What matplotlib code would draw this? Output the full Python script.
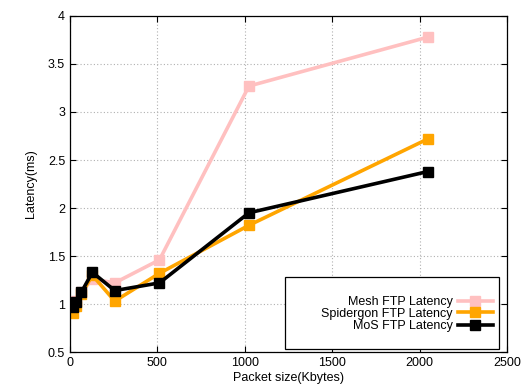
import matplotlib
matplotlib.use("Agg")
import matplotlib.pyplot as plt
from matplotlib.patches import Rectangle

plt.rcParams["font.family"] = ["Liberation Sans", "DejaVu Sans"]
plt.rcParams["font.size"] = 9

packet_sizes = [16, 32, 64, 128, 256, 512, 1024, 2048]
mesh_latency = [1.00, 1.03, 1.12, 1.26, 1.22, 1.46, 3.27, 3.78]
spidergon_latency = [0.91, 0.98, 1.10, 1.30, 1.03, 1.32, 1.82, 2.72]
mos_latency = [0.97, 1.02, 1.12, 1.33, 1.14, 1.22, 1.95, 2.38]

series = [
    ("Mesh FTP Latency", mesh_latency, "#ffc0c0"),
    ("Spidergon FTP Latency", spidergon_latency, "#ffa500"),
    ("MoS FTP Latency", mos_latency, "black"),
]

fig = plt.figure(figsize=(5.28, 3.9), dpi=100)
ax = fig.add_axes([0.1326, 0.0974, 0.8274, 0.8616])

for label, values, color in series:
    ax.plot(packet_sizes, values, color=color, lw=2.6, marker="s",
            markersize=6.5, label=label)

ax.set_xlim(0, 2500)
ax.set_ylim(0.5, 4)
ax.set_xticks(range(0, 2501, 500))
ax.set_yticks([0.5, 1, 1.5, 2, 2.5, 3, 3.5, 4])
ax.set_yticklabels(["0.5", "1", "1.5", "2", "2.5", "3", "3.5", "4"])
ax.grid(True, color="#b0b0b0", linestyle=(0, (1, 2)), lw=0.8)
ax.tick_params(direction="in", top=True, right=True, length=4, width=0.8)
for s in ax.spines.values():
    s.set_linewidth(0.9)

ax.set_xlabel("Packet size(Kbytes)", labelpad=2)
ax.set_ylabel("Latency(ms)", labelpad=8)

# key, gnuplot style: right-aligned labels followed by the line sample
ax.add_patch(Rectangle((0.491, 0.009), 0.491, 0.214, transform=ax.transAxes,
                       facecolor="white", edgecolor="black", lw=0.9, zorder=4))
row_y = [0.153, 0.1176, 0.0818]
for (label, _, color), y in zip(series, row_y):
    ax.text(0.8764, y, label, transform=ax.transAxes, ha="right",
            va="center_baseline", zorder=5)
    ax.plot([0.888, 0.968], [y, y], color=color, lw=2.6,
            transform=ax.transAxes, clip_on=False, zorder=5)
    ax.plot([0.928], [y], color=color, marker="s", markersize=6.5,
            transform=ax.transAxes, clip_on=False, zorder=5)

fig.savefig("out.png", dpi=100)
